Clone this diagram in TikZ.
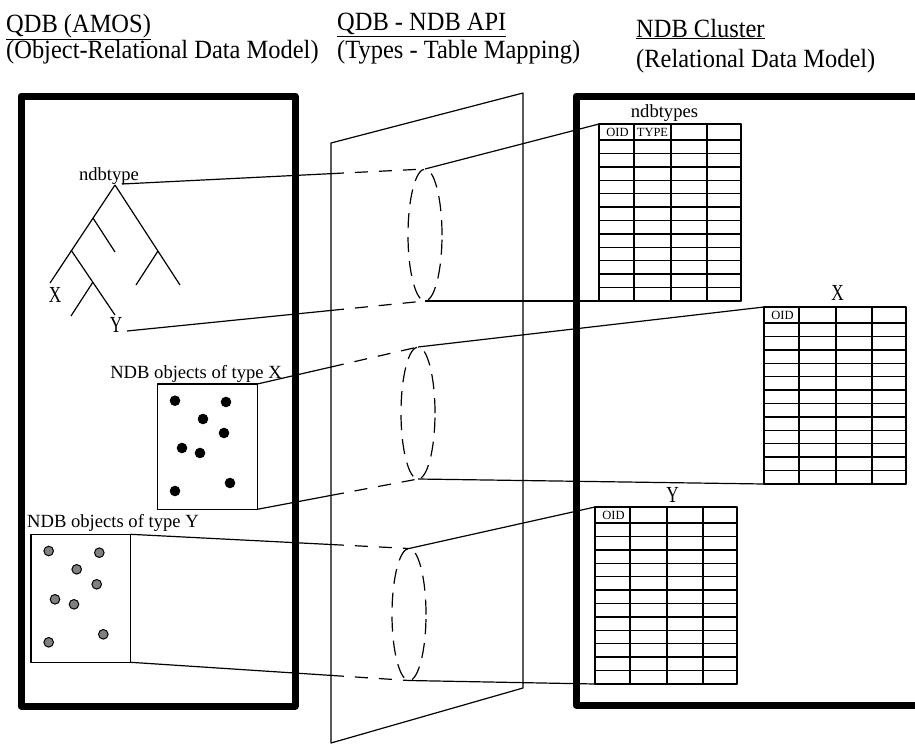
\documentclass[tikz,border=0pt]{standalone}
\usepackage{fontspec}
\setmainfont{Liberation Serif}
\newfontfamily\hdfamily[FakeStretch=0.93]{Liberation Serif}
\newfontfamily\letterfamily[FakeStretch=0.75]{Liberation Serif}
\usetikzlibrary{calc}

\tikzset{
  thickbox/.style={line width=7pt},
  conn/.style={line width=1.2pt},
  dconn/.style={line width=1.2pt, dash pattern=on 13pt off 11pt},
  tablegrid/.style={line width=1.4pt},
  hdtext/.style={font=\hdfamily\fontsize{26.3}{30}\selectfont, anchor=base west, inner sep=0pt},
  lbl/.style={font=\fontsize{18.6}{22}\selectfont, inner sep=0pt},
  letter/.style={font=\letterfamily\fontsize{23}{26}\selectfont, inner sep=0pt, anchor=base},
  celltext/.style={font=\fontsize{12.5}{14}\selectfont, inner sep=0pt},
  blackdot/.style={fill=black},
  graydot/.style={fill=gray, draw=black, line width=1pt}
}

\begin{document}
\begin{tikzpicture}[x=1pt, y=-1pt, line join=round]

\useasboundingbox (0,0) rectangle (915,744);

%% ============================================================
%% Column headers
%% ============================================================
\node[hdtext] (hdL1) at (6,32)    {\underline{QDB (AMOS)}};
\node[hdtext] (hdL2) at (6,58)    {(Object-Relational Data Model)};
\node[hdtext] (hdM1) at (337,30.7){\underline{QDB - NDB API}};
\node[hdtext] (hdM2) at (337,58)  {(Types - Table Mapping)};
\node[hdtext] (hdR1) at (636,37)  {\underline{NDB Cluster}};
\node[hdtext] (hdR2) at (636,67)  {(Relational Data Model)};

%% ---- QDB side (thick box) ----
\draw[thickbox] (21,96) rectangle (295,706);

%% ---- NDB side (thick box, open to the right) ----
\draw[thickbox] (915,96) -- (576,96) -- (576,705) -- (915,705);

%% ---- API plane ----
\coordinate (pTL) at (331,143);
\coordinate (pTR) at (523,93);
\coordinate (pBR) at (523,688);
\coordinate (pBL) at (331,743);
\draw[conn] (pTL) -- (pTR) -- (pBR) -- (pBL) -- cycle;

%% ============================================================
%% Type tree
%% ============================================================
\coordinate (root) at (115,185);
\draw[conn] (root) -- (50,283);
\draw[conn] (root) -- (180,285);
\draw[conn] (93,218) -- (115,252);
\draw[conn] (71,250) -- (115,315);
\draw[conn] (93,282) -- (71,316);
\draw[conn] (158,251) -- (136,285);

\node[lbl, anchor=base] (ndbtype) at (109,180) {ndbtype};
\node[letter] (leafX) at (55,302.7)  {X};
\node[letter] (leafY) at (116,332.7) {Y};
\coordinate (rootR) at (122,184);
\coordinate (leafYR) at (127,331);

%% ============================================================
%% Object sets
%% ============================================================
% objects of type X (black)
\draw[conn] (157.7,384) rectangle (257.3,509.3);
\coordinate (xoTR) at (257.3,384);
\coordinate (xoBR) at (257.3,509.3);
\node[lbl, anchor=base east] (xolbl) at (282,378) {NDB objects of type X};
\foreach \px/\py in {175/400.7, 226/402, 203/419, 224/433, 182/448, 200/453, 230/483, 175/491}
  \fill[blackdot] (\px,\py) circle (5.3pt);

% objects of type Y (gray)
\draw[conn] (31,534.3) rectangle (130.7,662.3);
\coordinate (yoTR) at (130.7,534.3);
\coordinate (yoBR) at (130.7,662.3);
\node[lbl, anchor=base west] (yolbl) at (27,527) {NDB objects of type Y};
\foreach \px/\py in {48.7/551, 99.3/552.7, 76.7/569.3, 96.7/584.3, 55/599.3, 74/604.3, 103.3/634.3, 48.7/642.3}
  \draw[graydot] (\px,\py) circle (4.8pt);

%% ============================================================
%% Tables in the cluster
%% ============================================================
\def\tabW{142}   % table width
\def\tabH{177}   % table height
\def\hdH{16}     % header row height
\def\dbtable#1#2#3{%
  \begin{scope}[shift={(#2,#3)}]
    \coordinate (#1TL) at (0,0);
    \coordinate (#1BL) at (0,\tabH);
    \draw[tablegrid] (0,0) rectangle (\tabW,\tabH);
    \foreach \cx in {35,72,108}
      \draw[tablegrid] (\cx,0) -- (\cx,\tabH);
    \draw[tablegrid] (0,\hdH) -- (\tabW,\hdH);
    \foreach \r in {1,...,11}
      \draw[tablegrid] (0,{\hdH+\r*13.4167}) -- (\tabW,{\hdH+\r*13.4167});
    \node[celltext] (#1oid) at (18.5,8.5) {OID};
  \end{scope}}

\dbtable{types}{599}{124}
\dbtable{tabx}{764}{307}
\dbtable{taby}{595}{507}
\node[celltext] (typecol) at (599+53.5,124+8.5) {TYPE};

\node[lbl, anchor=base] (typesname) at (664.5,117) {ndbtypes};
\node[letter] (tabxname) at (837.7,300)   {X};
\node[letter] (tabyname) at (672.7,502.7) {Y};

%% ============================================================
%% Mapping cylinders (dashed ellipses on the plane)
%% ============================================================
\def\cylRx{17pt}
\def\cylRy{66pt}
\foreach \nm/\cx/\cy in {cA/425/235, cB/418/413, cC/409/614.5} {
  \coordinate (\nm) at (\cx,\cy);
  \coordinate (\nm T) at (\cx,\cy-66);
  \coordinate (\nm B) at (\cx,\cy+66);
  \draw[dconn, dash pattern=on 15pt off 9pt] (\nm) ellipse [x radius=\cylRx, y radius=\cylRy];
}

%% links: solid up to the plane, dashed behind it
\def\apilink#1#2{%
  \draw[conn] (#1) -- (intersection of #1--#2 and pTL--pBL);
  \draw[dconn] (intersection of #1--#2 and pTL--pBL) -- (#2);}

\apilink{rootR}{cAT}
\apilink{leafYR}{cAB}
\apilink{xoTR}{cBT}
\apilink{xoBR}{cBB}
\apilink{yoTR}{cCT}
\apilink{yoBR}{cCB}

%% cylinders to tables
\draw[conn] (cAT) -- (typesTL);
\draw[conn] (cAB) -- (typesBL);
\draw[conn] (cBT) -- (tabxTL);
\draw[conn] (cBB) -- (tabxBL);
\draw[conn] (cCT) -- (tabyTL);
\draw[conn] (cCB) -- (tabyBL);

\end{tikzpicture}
\end{document}
